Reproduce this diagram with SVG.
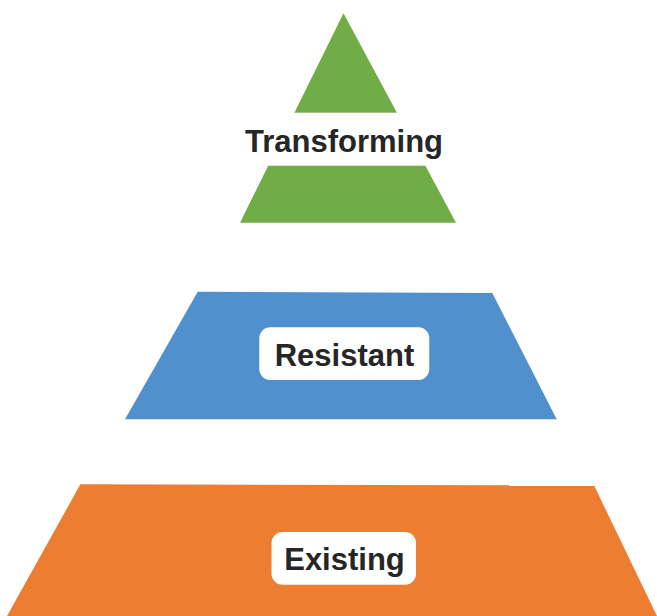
<svg xmlns="http://www.w3.org/2000/svg" width="657" height="616" viewBox="0 0 657 616">
<style>
.lbl{font-family:"Liberation Sans",Arial,sans-serif;font-weight:bold;font-size:31px;fill:#262626;text-anchor:middle}
.bg{fill:#ffffff}
</style>
<rect width="657" height="616" fill="#ffffff"/>
<g id="transforming">
<polygon points="343.5,13.3 240,222.7 456,222.7" fill="#70AD47"/>
<rect class="bg" x="232" y="112.7" width="224" height="53"/>
<text class="lbl" x="344" y="151.5">Transforming</text>
</g>
<g id="resistant">
<polygon points="197.7,291.7 492.3,293 556.7,419.3 125,419.3" fill="#5090CD"/>
<rect class="bg" x="259.3" y="327.3" width="170" height="52.7" rx="11"/>
<text class="lbl" x="344.5" y="366">Resistant</text>
</g>
<g id="existing">
<polygon points="80.4,484.3 594,485.3 657,616 7,616" fill="#ED7D31"/>
<rect class="bg" x="271.5" y="532" width="144.5" height="52.7" rx="11"/>
<text class="lbl" x="344.5" y="570">Existing</text>
</g>
<g id="connectors"/>
</svg>
